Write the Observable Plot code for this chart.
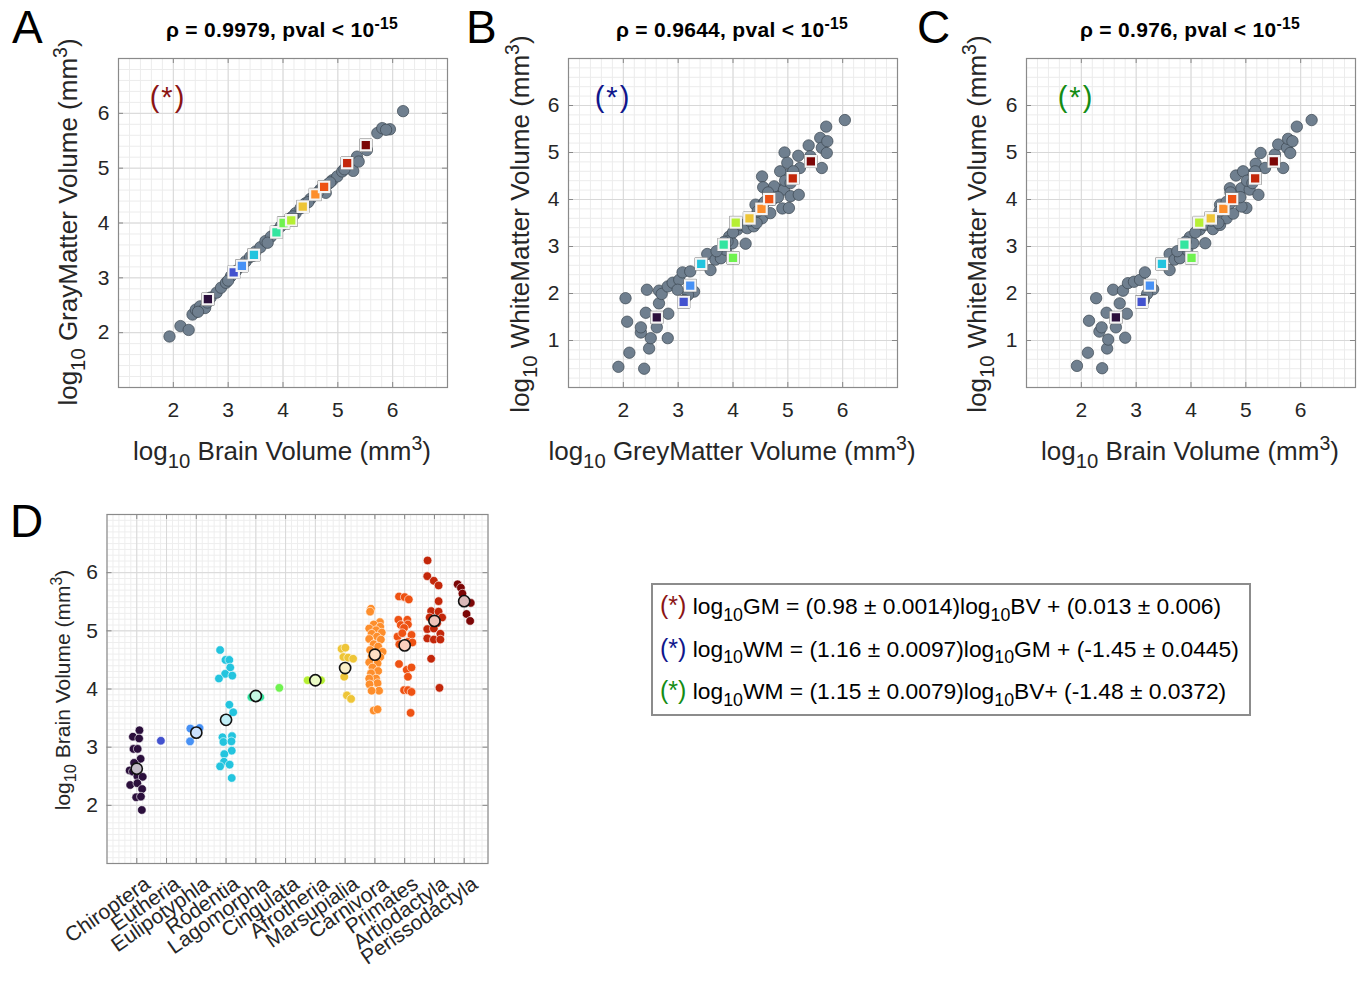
<!DOCTYPE html>
<html>
<head>
<meta charset="utf-8">
<script src="https://cdn.jsdelivr.net/npm/d3@7"></script>
<script src="https://cdn.jsdelivr.net/npm/@observablehq/plot@0.6"></script>
<style>
  body { margin: 0; background: #fff; }
  #root { position: relative; width: 1361px; height: 985px; overflow: hidden; background: #fff;
          font-family: "Liberation Sans", Arial, sans-serif; color: #262626; }
  #root svg { max-width: none !important; }
  .abs { position: absolute; white-space: nowrap; line-height: 1; }
  .letter { font-size: 46px; color: #000; }
  .title { font-size: 21px; font-weight: bold; color: #000; letter-spacing: 0.3px; transform: translateX(-50%); }
  .xlab { font-size: 26px; transform: translateX(-50%); }
  .ylab { font-size: 26px; transform: translate(-50%, -50%) rotate(-90deg); }
  .star { font-size: 29px; letter-spacing: 2px; transform: translate(-50%, -50%); }
  .sb { font-size: 0.78em; position: relative; top: 0.38em; }
  .sp { font-size: 0.75em; position: relative; top: -0.5em; }
  .legend { border: 2px solid #8c8c8c; background: #fff; }
  .lgline { font-size: 22.8px; color: #000; }
</style>
</head>
<body>
<div id="root"></div>
<script>
// ---------------- DATA ----------------
const orders = ["Chiroptera","Eutheria","Eulipotyphla","Rodentia","Lagomorpha","Cingulata",
                "Afrotheria","Marsupialia","Carnivora","Primates","Artiodactyla","Perissodactyla"];
const orderColors = ["#2b0f3c","#4352cf","#4791f5","#23c4de","#33e5a0","#6ff24f",
                     "#b6ef34","#eec537","#fd8e2c","#ee5213","#c3270a","#7c0606"];
// order means (log10 mm^3)
const meanBV = [2.63,3.10,3.25,3.47,3.88,4.01,4.15,4.36,4.59,4.75,5.17,5.51];
const meanGM = [2.61,3.10,3.22,3.42,3.83,4.00,4.05,4.30,4.52,4.66,5.09,5.42];
const meanWM = [1.49,1.82,2.17,2.63,3.04,2.76,3.51,3.60,3.80,4.01,4.45,4.81];

// Panel A: brain volume vs gray matter
const aBV = [1.93,2.13,2.28,2.35,2.41,2.49,2.58,2.68,2.79,2.87,2.96,3.05,3.14,3.23,3.32,3.40,3.50,3.59,3.68,3.78,3.87,3.96,4.05,4.14,4.23,4.32,4.41,4.50,4.59,4.68,4.78,4.81,4.90,4.99,5.08,5.17,5.23,5.28,5.35,5.38,5.53,5.72,5.81,5.95,5.88,6.19,2.45,2.62,3.00,3.45,3.72,4.18,4.46,4.64,4.86,5.12];
const aGM = [1.93,2.12,2.05,2.33,2.42,2.48,2.45,2.64,2.73,2.82,2.91,3.03,3.12,3.21,3.30,3.38,3.48,3.56,3.67,3.75,3.85,3.94,4.01,4.09,4.18,4.27,4.36,4.44,4.52,4.61,4.55,4.70,4.78,4.85,4.94,5.02,5.09,4.95,5.21,5.12,5.33,5.64,5.73,5.71,5.70,6.04,2.38,2.55,2.95,3.40,3.64,4.12,4.38,4.56,4.74,4.98];

// Panel B: gray matter vs white matter
const bGM = [1.91,2.38,2.11,2.47,2.81,2.50,2.32,2.32,2.07,2.61,2.41,2.82,2.65,2.04,2.43,2.65,2.70,2.81,2.90,3.02,3.08,3.22,2.99,3.29,3.18,3.11,3.53,3.59,3.68,3.78,3.87,3.93,3.99,3.90,4.23,4.08,4.14,4.26,4.38,4.41,4.53,4.68,4.56,4.70,4.81,4.90,5.02,4.53,4.55,4.75,4.93,5.05,5.20,4.98,4.86,4.94,4.99,5.19,5.22,5.38,5.41,5.59,5.62,5.62,5.72,5.71,5.70,6.04,4.58,4.72,4.82,4.64,4.95,4.45,4.30,4.00,3.84,3.70,5.05,5.10,4.43];
const bWM = [0.44,0.40,0.74,0.83,1.05,1.05,1.17,1.28,1.40,1.28,1.59,1.57,1.79,1.90,2.08,2.06,1.99,2.15,2.23,2.29,2.45,2.47,2.08,2.04,1.97,1.86,2.84,2.50,2.72,2.75,2.93,3.21,3.07,3.11,3.06,3.36,3.46,3.39,3.43,3.89,3.60,3.71,3.92,4.08,4.22,3.81,3.82,4.49,4.26,4.28,4.21,4.07,4.10,4.53,4.60,5.00,4.78,4.93,4.67,5.15,4.92,5.31,4.67,5.10,5.24,4.99,5.55,5.69,3.95,4.00,4.05,4.15,4.40,3.75,3.55,3.30,3.10,2.90,4.35,4.60,3.50];

// Panel C: brain volume vs white matter
const cBV = [1.92,2.38,2.12,2.47,2.80,2.49,2.33,2.37,2.14,2.63,2.46,2.83,2.70,2.27,2.58,2.76,2.85,2.96,3.07,3.16,3.31,3.20,3.14,3.61,3.61,3.70,3.80,3.93,3.98,4.04,4.26,4.16,4.25,4.40,4.53,4.53,4.65,4.77,4.71,4.83,4.92,5.01,4.92,4.71,4.82,5.07,5.23,5.11,4.95,5.18,5.27,5.35,5.53,5.68,5.59,5.75,5.81,5.77,5.85,5.93,6.20,4.65,4.80,4.90,4.72,5.02,4.52,4.37,4.08,3.90,3.75,5.12,5.17,4.50];
const cWM = [0.46,0.41,0.74,0.83,1.06,1.02,1.19,1.28,1.42,1.28,1.59,1.57,1.79,1.90,2.08,2.06,2.22,2.25,2.29,2.45,2.09,1.99,1.86,2.50,2.84,2.72,2.75,2.93,3.20,3.07,3.07,3.36,3.46,3.37,3.46,3.89,3.60,3.70,3.92,4.08,4.24,3.82,3.85,4.24,4.51,4.21,4.10,4.53,4.60,4.76,4.99,4.67,4.96,4.67,5.17,5.10,4.99,5.29,5.24,5.55,5.69,3.95,4.00,4.05,4.15,4.40,3.75,3.55,3.30,3.10,2.90,4.35,4.60,3.50];

// Panel D: brain volume per species, grouped by order (with horizontal jitter)
const dBV = [
  [3.29,3.18,3.15,2.97,2.97,2.80,2.60,2.58,2.50,2.49,2.35,2.38,2.28,2.14,2.15,1.92,2.73],
  [3.11],
  [3.32,3.33,3.10],
  [4.67,4.50,4.50,4.37,4.26,4.23,4.18,3.73,3.60,3.17,3.19,3.09,3.10,2.94,2.88,2.75,2.67,2.70,2.47],
  [3.86,3.86,3.88],
  [4.02],
  [4.15,4.14,4.15],
  [4.69,4.71,4.55,4.54,4.52,4.21,3.89,3.83],
  [5.38,5.33,5.15,5.11,5.04,5.07,5.01,4.97,4.95,4.90,4.86,4.85,4.77,4.73,4.67,4.64,4.55,4.55,4.46,4.44,4.37,4.31,4.27,4.18,4.18,4.10,4.08,3.97,3.97,3.63,3.65],
  [5.59,5.58,5.54,5.19,5.19,5.10,5.11,5.05,4.93,4.90,4.81,4.77,4.80,4.96,4.43,4.33,4.37,4.21,3.98,3.98,3.95,3.59],
  [6.21,5.94,5.86,5.78,5.51,5.34,5.33,5.23,5.23,5.13,5.03,5.04,4.95,4.87,4.85,4.85,4.52,4.02],
  [5.80,5.74,5.64,5.48,5.29,5.17]
];
const dJitter = [
  [0.09,-0.13,0.08,-0.11,0.03,0.13,-0.24,-0.13,0.02,0.20,-0.22,0.02,0.18,-0.02,0.14,0.17,-0.09],
  [-0.19],
  [-0.20,0.11,-0.21],
  [-0.20,-0.02,0.11,0.14,-0.03,0.21,-0.24,0.11,0.24,-0.12,0.20,-0.09,0.18,0.19,-0.06,-0.07,-0.20,0.12,0.19],
  [-0.15,0.15,0.00],
  [-0.21],
  [-0.26,0.00,0.19],
  [-0.12,0.01,-0.06,0.10,0.27,-0.03,0.06,0.20],
  [-0.13,-0.16,0.17,-0.04,-0.19,0.18,0.04,0.23,-0.11,0.07,-0.19,0.20,-0.04,0.11,-0.16,0.26,-0.11,0.18,-0.19,0.09,-0.08,0.11,-0.13,0.04,-0.19,0.09,-0.18,0.14,-0.11,-0.04,0.09],
  [-0.19,0.00,0.14,-0.21,0.09,-0.13,0.11,-0.02,0.23,-0.24,0.11,-0.18,0.26,-0.08,-0.19,0.07,0.23,0.11,-0.02,0.11,0.23,0.20],
  [-0.23,-0.24,-0.02,0.14,0.14,-0.11,0.14,-0.16,0.26,0.09,-0.24,-0.02,0.20,-0.24,-0.02,0.20,-0.11,0.17],
  [-0.22,-0.11,-0.06,0.22,0.08,0.20]
];

const xTicksABC = [2,3,4,5,6];
const yTicksA = [2,3,4,5,6];
const yTicksBC = [1,2,3,4,5,6];
const yTicksD = [2,3,4,5,6];

// ---------------- LAYOUT HELPERS ----------------
const root = document.getElementById("root");
function put(node, left, top) {
  const d = document.createElement("div");
  d.className = "abs";
  d.style.left = left + "px"; d.style.top = top + "px";
  d.appendChild(node);
  root.appendChild(d);
}
function text(html, cls, left, top, style = "") {
  const d = document.createElement("div");
  d.className = "abs " + cls;
  d.style.cssText += `left:${left}px;top:${top}px;${style}`;
  d.innerHTML = html;
  root.appendChild(d);
  return d;
}

const baseStyle = {fontFamily: "'Liberation Sans', Arial, sans-serif", fontSize: "21px", color: "#262626", background: "transparent", overflow: "visible"};
const G = 329; // frame size of scatter panels
const intFmt = d => String(d);

function scatterPanel(xs, ys, sqX, sqY, yDomain, yTicks) {
  const ml = 38, mt = 8, mr = 6, mb = 45;
  const pts = xs.map((x, i) => ({x, y: ys[i]}));
  const sq = sqX.map((x, i) => ({x, y: sqY[i], c: orderColors[i]}));
  return Plot.plot({
    width: ml + G + mr, height: mt + G + mb,
    marginLeft: ml, marginTop: mt, marginRight: mr, marginBottom: mb,
    x: {domain: [1, 7], label: null},
    y: {domain: yDomain, label: null},
    style: baseStyle,
    marks: [
      Plot.ruleX(d3.range(1, 7.001, 0.2), {x: d => d, stroke: "#ececec"}),
      Plot.ruleY(d3.range(yDomain[0], yDomain[1] + 0.001, 0.2), {y: d => d, stroke: "#ececec"}),
      Plot.ruleX(d3.range(1, 8), {x: d => d, stroke: "#d8d8d8"}),
      Plot.ruleY(d3.range(yDomain[0], yDomain[1] + 1), {y: d => d, stroke: "#d8d8d8"}),
      Plot.dot(pts, {x: "x", y: "y", r: 5.7, fill: "#6f7f8f", stroke: "#3b4650", strokeWidth: 0.7}),
      Plot.dot(sq, {x: "x", y: "y", symbol: "square", r: 6.9, fill: "none", stroke: "#4a4a4a", strokeWidth: 1}),
      Plot.dot(sq, {x: "x", y: "y", symbol: "square", r: 5.9, fill: "c", stroke: "#f4f4f4", strokeWidth: 2.2}),
      Plot.tickX(xTicksABC, {x: d => d, insetTop: G - 5, stroke: "#888"}),
      Plot.tickX(xTicksABC, {x: d => d, insetBottom: G - 5, stroke: "#888"}),
      Plot.tickY(yTicks, {y: d => d, insetRight: G - 5, stroke: "#888"}),
      Plot.tickY(yTicks, {y: d => d, insetLeft: G - 5, stroke: "#888"}),
      Plot.axisX(xTicksABC, {tickSize: 0, tickPadding: 15, fontSize: 21, tickFormat: intFmt, label: null}),
      Plot.axisY(yTicks, {tickSize: 0, tickPadding: 9, fontSize: 21, tickFormat: intFmt, label: null}),
      Plot.frame({stroke: "#8a8a8a", strokeWidth: 1.2})
    ]
  });
}

// ---------------- PANELS A, B, C ----------------
put(scatterPanel(aBV, aGM, meanBV, meanGM, [1, 7], yTicksA), 80, 50);
put(scatterPanel(bGM, bWM, meanGM, meanWM, [0, 7], yTicksBC), 530, 50);
put(scatterPanel(cBV, cWM, meanBV, meanWM, [0, 7], yTicksBC), 987.5, 50);

// ---------------- PANEL D ----------------
const dRows = [];
dBV.forEach((vals, i) => vals.forEach((v, j) => dRows.push({x: i + 1 + dJitter[i][j], y: v, c: orderColors[i]})));
// mean ring only for orders with more than one species
const meanRows = meanBV.map((v, i) => ({x: i + 1, y: v, n: dBV[i].length,
                                        c: d3.interpolateRgb(orderColors[i], "#ffffff")(0.72)}))
                       .filter(d => d.n > 1);
const DW = 381, DH = 349;
const plotD = Plot.plot({
  width: 66.5 + DW + 12, height: 9 + DH + 130,
  marginLeft: 66.5, marginTop: 9, marginRight: 12, marginBottom: 130,
  x: {domain: [0, 12.8], label: null},
  y: {domain: [1, 7], label: null},
  style: baseStyle,
  marks: [
    Plot.ruleX(d3.range(0, 12.801, 0.2), {x: d => d, stroke: "#eeeeee"}),
    Plot.ruleY(d3.range(1, 7.001, 0.1), {y: d => d, stroke: "#eeeeee"}),
    Plot.ruleX(d3.range(1, 13), {x: d => d, stroke: "#d8d8d8"}),
    Plot.ruleY(d3.range(1, 8), {y: d => d, stroke: "#d8d8d8"}),
    Plot.dot(dRows, {x: "x", y: "y", r: 4.3, fill: "c", stroke: "#ffffff", strokeWidth: 0.6}),
    Plot.dot(meanRows, {x: "x", y: "y", r: 5.6, fill: "c", stroke: "#111", strokeWidth: 1.6}),
    Plot.tickX(d3.range(1, 13), {x: d => d, insetTop: DH - 5, stroke: "#888"}),
    Plot.tickX(d3.range(1, 13), {x: d => d, insetBottom: DH - 5, stroke: "#888"}),
    Plot.tickY(yTicksD, {y: d => d, insetRight: DW - 5, stroke: "#888"}),
    Plot.tickY(yTicksD, {y: d => d, insetLeft: DW - 5, stroke: "#888"}),
    Plot.axisX(d3.range(1, 13), {tickSize: 0, tickPadding: 18, dx: 11, tickRotate: -35, fontSize: 21,
                                 tickFormat: i => orders[i - 1], label: null}),
    Plot.axisY(yTicksD, {tickSize: 0, tickPadding: 9, fontSize: 21, tickFormat: intFmt, label: null}),
    Plot.frame({stroke: "#8a8a8a", strokeWidth: 1.2})
  ]
});
put(plotD, 40, 505);

// ---------------- TEXT ----------------
text("A", "letter", 12, 4);
text("B", "letter", 466, 4);
text("C", "letter", 917, 4);
text("D", "letter", 10, 498);

text('ρ = 0.9979, pval &lt; 10<span class="sp">-15</span>', "title", 282, 19);
text('ρ = 0.9644, pval &lt; 10<span class="sp">-15</span>', "title", 732, 19);
text('ρ = 0.976, pval &lt; 10<span class="sp">-15</span>', "title", 1190, 19);

text('log<span class="sb">10</span> Brain Volume (mm<span class="sp">3</span>)', "xlab", 282, 438);
text('log<span class="sb">10</span> GreyMatter Volume (mm<span class="sp">3</span>)', "xlab", 732, 438);
text('log<span class="sb">10</span> Brain Volume (mm<span class="sp">3</span>)', "xlab", 1190, 438);

text('log<span class="sb">10</span> GrayMatter Volume (mm<span class="sp">3</span>)', "ylab", 68, 222);
text('log<span class="sb">10</span> WhiteMatter Volume (mm<span class="sp">3</span>)', "ylab", 520, 224);
text('log<span class="sb">10</span> WhiteMatter Volume (mm<span class="sp">3</span>)', "ylab", 977, 224);
text('log<span class="sb">10</span> Brain Volume (mm<span class="sp">3</span>)', "ylab", 62, 690, "font-size:21px;");

text("(*)", "star", 168, 97, "color:#8b1414;");
text("(*)", "star", 613, 97, "color:#10168c;");
text("(*)", "star", 1076, 97, "color:#148c14;");

const lg = text("", "legend", 651, 583, "width:596px;height:129px;");
const lines = [
  ['#8b1414', 'log<span class="sb">10</span>GM = (0.98 ± 0.0014)log<span class="sb">10</span>BV + (0.013 ± 0.006)'],
  ['#10168c', 'log<span class="sb">10</span>WM = (1.16 ± 0.0097)log<span class="sb">10</span>GM + (-1.45 ± 0.0445)'],
  ['#148c14', 'log<span class="sb">10</span>WM = (1.15 ± 0.0079)log<span class="sb">10</span>BV+ (-1.48 ± 0.0372)']
];
lines.forEach(([col, html], i) => {
  const d = document.createElement("div");
  d.className = "abs lgline";
  d.style.left = "7px";
  d.style.top = (8 + i * 42.5) + "px";
  d.innerHTML = `<span style="color:${col};font-size:25px">(*)</span> ` + html;
  lg.appendChild(d);
});
</script>
</body>
</html>
